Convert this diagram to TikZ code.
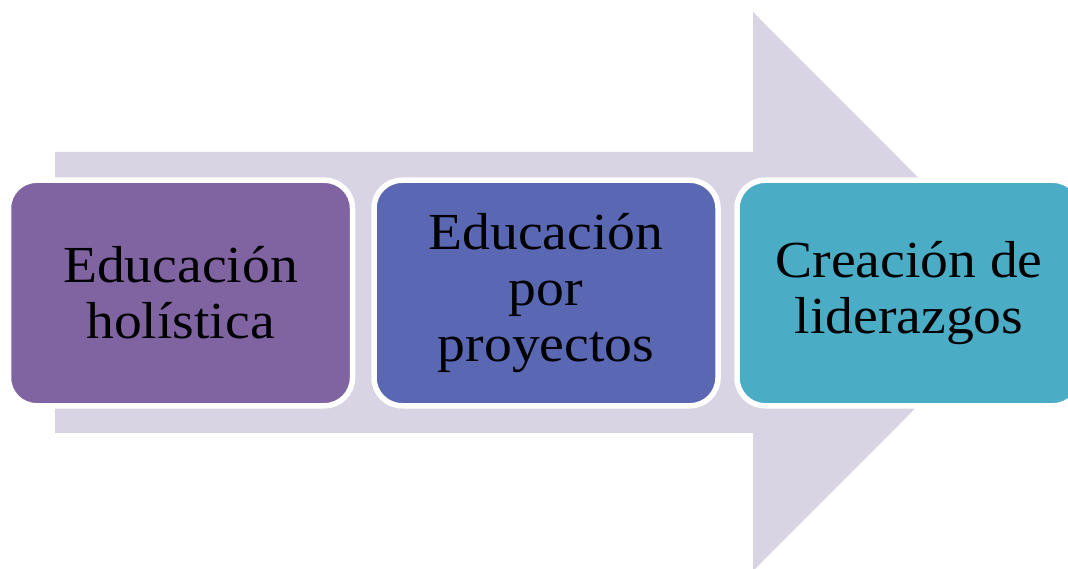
\documentclass[tikz,border=0pt]{standalone}
\usepackage{fontspec}
\setmainfont{Liberation Serif}[FakeStretch=1.07]
\definecolor{arrowcol}{HTML}{D8D4E4}
\definecolor{c1}{HTML}{8064A2}
\definecolor{c2}{HTML}{5A67B2}
\definecolor{c3}{HTML}{4BACC6}
\tikzset{
  stepbox/.style={draw=white, line width=5.5pt, rounded corners=28pt,
    minimum width=344pt, minimum height=225.5pt, inner sep=0pt,
    align=center, text=black, font=\fontsize{52}{56}\selectfont}
}
\begin{document}
\begin{tikzpicture}[x=1pt,y=-1pt]
\useasboundingbox (0,0) rectangle (1068,569);
\fill[arrowcol] (55,152) -- (753,152) -- (753,12) -- (1032,291.5) -- (753,571) -- (753,433) -- (55,433) -- cycle;
\node[stepbox, fill=c1] (b1) at (180.5,293) {Educación\\holística};
\node[stepbox, fill=c2] (b2) at (546,293) {Educación\\por\\proyectos};
\node[stepbox, fill=c3] (b3) at (909,293) {Creación de\\liderazgos};
\end{tikzpicture}
\end{document}
